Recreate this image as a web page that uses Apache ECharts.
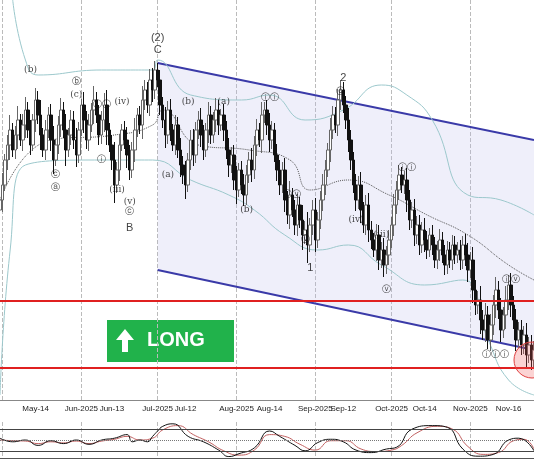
<!DOCTYPE html>
<html><head><meta charset="utf-8">
<script src="https://cdn.jsdelivr.net/npm/echarts@6/dist/echarts.min.js"></script>
<style>html,body{margin:0;padding:0;background:#fff}#c{width:534px;height:462px}</style>
</head><body><div id="c"></div>
<script>
// daily closes, Apr 30 .. Nov 26 2025
var closes = [200,215,240,255,270,250,265,280,260,275,
  290,270,255,280,300,285,265,250,270,285,
  260,240,255,275,290,270,250,265,280,260,
  245,270,295,280,260,275,290,300,285,265,
  280,295,270,255,240,215,230,255,270,260,
  245,230,250,270,285,275,300,310,295,320,
  310,330,320,295,280,265,290,270,255,275,
  250,235,225,215,240,260,245,270,280,265,
  250,270,285,265,280,290,275,285,270,250,
  235,245,220,210,230,215,205,225,240,230,
  255,270,260,285,290,275,260,270,245,230,
  215,230,200,185,205,190,175,195,180,165,
  170,155,175,190,160,180,200,215,230,250,
  270,285,275,300,310,295,280,260,240,215,
  200,215,190,175,195,170,160,150,165,140,
  150,135,145,160,175,195,210,225,215,220,
  200,180,190,165,175,155,170,160,150,165,
  155,140,150,160,145,135,150,140,155,145,
  150,140,155,145,130,140,110,95,100,80,
  70,85,60,75,95,110,90,70,85,100,
  115,95,80,60,70,55,65,45,55,40,50];
var wicks = [8,12,6,10,15,7,9,14,6,11,
  13,8,10,6,12,9,15,7,10,8,
  11,14,6,9,12,8,16,7,10,9,
  12,8,6,13,9,11,7,14,8,10,
  9,12,15,7,10,18,8,11,6,9,
  13,10,8,12,7,9,14,10,8,11,
  12,9,7,10,8,13,9,11,6,10,
  8,12,9,14,7,10,11,8,9,12,
  10,7,13,9,8,12,10,6,11,9,
  12,8,10,14,7,9,11,10,8,12,
  9,11,7,13,8,10,12,9,7,11,
  10,8,12,9,14,7,10,11,8,15,
  9,18,7,10,12,8,9,11,10,7,
  12,9,8,11,10,8,9,12,10,8,
  11,9,13,8,10,12,9,7,11,10,
  8,12,9,10,8,11,9,10,8,9,
  12,10,8,11,9,10,8,12,9,7,
  10,8,9,11,8,10,9,8,10,9,
  8,10,9,11,12,8,13,10,9,14,
  10,12,9,11,10,13,9,12,8,14,
  10,12,9,11,8,10,9,12,8,10,9];
var tickDays = {'05-14':'May-14','06-01':'Jun-2025','06-13':'Jun-13','07-01':'Jul-2025','07-12':'Jul-12',
  '08-01':'Aug-2025','08-14':'Aug-14','09-01':'Sep-2025','09-12':'Sep-12','10-01':'Oct-2025',
  '10-14':'Oct-14','11-01':'Nov-2025','11-16':'Nov-16'};
// bands and moving average, sampled [day, price]
var upperBand = [[5,400],[10,340],[15,325],[40,330],[60,330],[62,340],[75,305],[95,300],[106,305],[120,280],[135,290],[150,315],[160,305],[170,280],[184,205],[197,200],[210,185]];
var lowerBand = [[0,5],[4,150],[10,235],[40,240],[60,240],[75,220],[90,205],[100,190],[112,165],[125,150],[137,155],[150,135],[167,115],[182,120],[192,60],[200,20],[210,5]];
var midLine = [[0,200],[20,260],[45,265],[60,275],[64,290],[78,255],[98,250],[114,240],[122,210],[137,220],[153,205],[168,185],[184,165],[200,135],[210,120]];
var chanUpper = [[62,337],[210,260]];
var chanLower = [[62,130],[210,50]];
var oscK = [[0,55],[5,45],[10,50],[15,35],[20,48],[25,40],[30,50],[35,38],[40,50],[45,55],[50,65],[52,45],[55,50],[58,45],[60,60],[62,75],[64,88],[68,95],[74,60],[80,45],[86,22],[90,4],[94,12],[100,28],[106,75],[110,60],[116,35],[120,20],[125,43],[130,52],[135,45],[140,22],[146,15],[152,25],[156,30],[162,80],[170,90],[176,85],[182,25],[188,5],[194,10],[200,50],[204,55],[210,20]];
var oscD = [[0,50],[5,48],[10,47],[15,40],[20,45],[25,42],[30,47],[35,40],[40,47],[45,52],[50,60],[55,50],[60,55],[64,78],[70,90],[76,65],[82,45],[88,20],[94,8],[100,22],[106,65],[112,60],[118,38],[124,22],[130,48],[136,48],[142,25],[148,18],[154,22],[158,35],[164,70],[172,88],[178,80],[184,32],[190,10],[196,15],[202,48],[206,52],[210,25]];
var waveLabels = [
  [12,330,'(b)'],[30,318,'ⓑ'],[30,305,'(c)'],[40,295,'ⓘⓘ'],[40,240,'ⓘ'],[22,225,'ⓒ'],[22,212,'ⓐ'],
  [46,210,'(iii)'],[51,188,'ⓒ'],[51,198,'(v)'],[48,298,'(iv)'],[74,298,'(b)'],[66,225,'(a)'],
  [88,298,'(a)'],[97,190,'(b)'],[106,302,'ⓘⓘ'],[115,205,'ⓘⓥ'],[120,160,'ⓥ'],[134,308,'ⓒ'],
  [140,180,'(iv)'],[150,165,'(iii)'],[160,232,'ⓘⓘ'],[152,110,'ⓥ'],[195,45,'ⓘⓘⓘ'],[201,120,'ⓘⓥ']];
var waveMain = [[62,362,'(2)'],[62,350,'C'],[135,322,'2'],[122,132,'1'],[51,172,'B']];

var days = [];
var d0 = new Date(Date.UTC(2025,3,30));
for (var i=0;i<closes.length;i++){var d=new Date(d0.getTime()+i*864e5);
  days.push(('0'+(d.getUTCMonth()+1)).slice(-2)+'-'+('0'+d.getUTCDate()).slice(-2));}
var ohlc = closes.map(function(c,i){var o=i?closes[i-1]:c-10;var w=wicks[i];
  return [o,c,Math.min(o,c)-w,Math.max(o,c)+w];});
var monthStart = function(i){return days[i].slice(3)==='01';};

var chart = echarts.init(document.getElementById('c'));
chart.setOption({
  animation:false,
  grid:[{left:0,right:0,top:0,height:400},{left:0,right:0,top:422,height:36}],
  xAxis:[{type:'category',data:days,boundaryGap:false,gridIndex:0,
      axisLine:{lineStyle:{color:'#888'}},axisTick:{show:false},
      axisLabel:{fontSize:8,color:'#222',margin:5,interval:function(i,v){return !!tickDays[v];},formatter:function(v){return tickDays[v];}},
      splitLine:{show:true,interval:function(i){return monthStart(i);},lineStyle:{color:'#bbb',type:'dashed'}}},
    {type:'category',data:days,boundaryGap:false,gridIndex:1,axisLabel:{show:false},axisTick:{show:false},
      axisLine:{lineStyle:{color:'#555'}},
      splitLine:{show:true,interval:function(i){return monthStart(i);},lineStyle:{color:'#bbb',type:'dashed'}}}],
  yAxis:[{type:'value',min:0,max:400,gridIndex:0,show:false},
    {type:'value',min:0,max:100,gridIndex:1,show:false}],
  series:[
    {type:'line',data:chanLower,stack:'ch',symbol:'none',lineStyle:{color:'#3a3aa8',width:2},z:1},
    {type:'line',data:chanUpper.map(function(p,i){return [p[0],p[1]-chanLower[i][1]];}),stack:'ch',symbol:'none',
      lineStyle:{width:0},areaStyle:{color:'rgba(190,190,235,0.35)'},z:1},
    {type:'line',data:chanUpper,symbol:'none',lineStyle:{color:'#3a3aa8',width:2},z:3,
      markLine:{silent:true,symbol:'none',label:{show:false},lineStyle:{color:'#e02020',width:2,type:'solid'},
        data:[{yAxis:99},{yAxis:32}]}},
    {type:'line',data:upperBand,symbol:'none',smooth:true,lineStyle:{color:'#9cc8cc',width:1}},
    {type:'line',data:lowerBand,symbol:'none',smooth:true,lineStyle:{color:'#9cc8cc',width:1}},
    {type:'line',data:midLine,symbol:'none',smooth:true,lineStyle:{color:'#555',width:1,type:'dotted'}},
    {type:'candlestick',data:ohlc,barWidth:3,z:4,
      itemStyle:{color:'#fff',color0:'#111',borderColor:'#666',borderColor0:'#111',borderWidth:1}},
    {type:'scatter',data:waveLabels,symbolSize:0,z:5,
      label:{show:true,position:'inside',formatter:function(p){return p.data[2];},fontSize:9,color:'#111',fontFamily:'DejaVu Serif'}},
    {type:'scatter',data:waveMain,symbolSize:0,z:5,
      label:{show:true,position:'inside',formatter:function(p){return p.data[2];},fontSize:11,color:'#111',fontFamily:'Arial'}},
    {type:'line',xAxisIndex:1,yAxisIndex:1,data:oscD,symbol:'none',smooth:true,lineStyle:{color:'#c06060',width:1},
      markLine:{silent:true,symbol:'none',label:{show:false},
        data:[{yAxis:80,lineStyle:{color:'#444',type:'solid',width:1}},{yAxis:50,lineStyle:{color:'#777',type:'dotted',width:1}},{yAxis:20,lineStyle:{color:'#444',type:'solid',width:1}}]}},
    {type:'line',xAxisIndex:1,yAxisIndex:1,data:oscK,symbol:'none',smooth:true,lineStyle:{color:'#111',width:1}}
  ],
  graphic:[
    {type:'circle',shape:{cx:532,cy:360,r:18},style:{fill:'rgba(240,80,80,0.25)',stroke:'#e04040',lineWidth:1},z:10},
    {type:'group',left:107,top:320,z:10,children:[
      {type:'rect',shape:{x:0,y:0,width:127,height:42},style:{fill:'#21b24b'}},
      {type:'polygon',shape:{points:[[18,9],[27,20],[21,20],[21,32],[15,32],[15,20],[9,20]]},style:{fill:'#fff'}},
      {type:'text',x:40,y:10,style:{text:'LONG',fill:'#fff',font:'bold 20px Arial'}}]}
  ]
});
</script></body></html>
